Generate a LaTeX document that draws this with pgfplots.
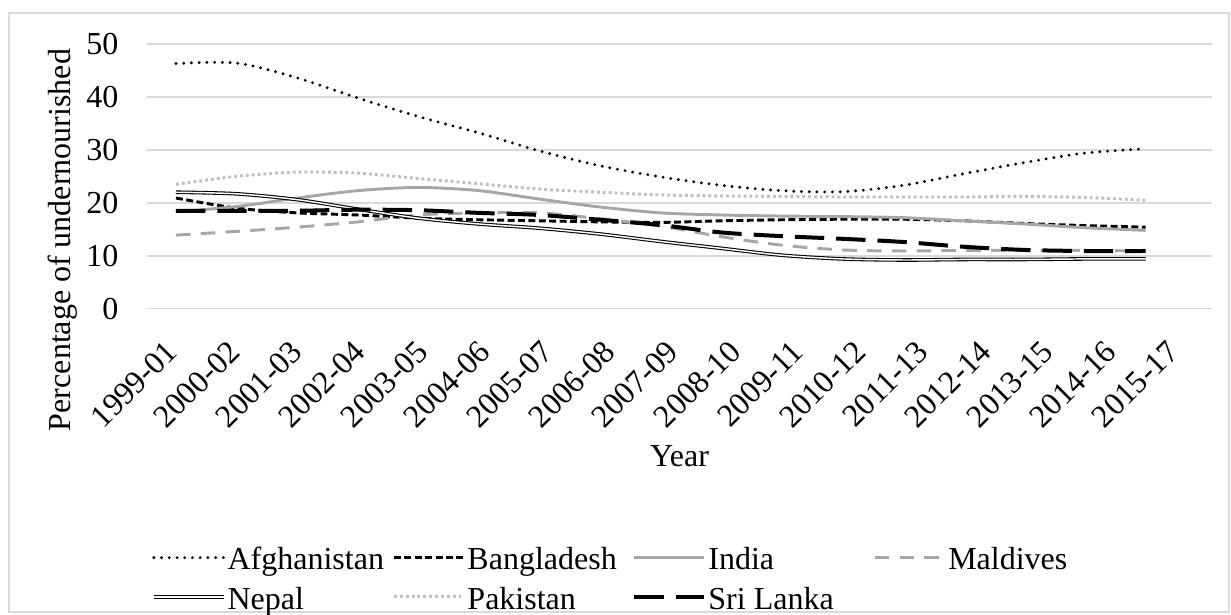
\documentclass[border=0pt]{standalone}
\usepackage{fontspec}
\setmainfont{Liberation Serif}
\usepackage{pgfplots}
\pgfplotsset{compat=1.18}
\definecolor{gridc}{HTML}{D9D9D9}
\definecolor{ind}{HTML}{A6A6A6}
\definecolor{pak}{HTML}{BFBFBF}
\newcommand{\lgd}[1]{\makebox[62.6bp][l]{\hspace{0.75bp}#1\rule[-4bp]{0pt}{15bp}}}
\begin{document}
\fontsize{12bp}{14.4bp}\selectfont
\begin{tikzpicture}
\useasboundingbox (0,0) rectangle (461.625bp,230.25bp);
\draw[gridc, line width=0.5bp] (3.375bp,0.75bp) rectangle (460.875bp,225.375bp);
\begin{axis}[
  at={(55.125bp,114.49bp)}, anchor=south west,
  scale only axis, width=399.375bp, height=99.26bp,
  xmin=-0.4785, xmax=17.096, ymin=0, ymax=50,
  ytick={0,10,20,30,40,50},
  xtick={0.111,1.143,2.176,3.209,4.241,5.274,6.307,7.340,8.372,9.405,10.438,11.470,12.503,13.536,14.568,15.601,16.634},
  xticklabels={1999-01,2000-02,2001-03,2002-04,2003-05,2004-06,2005-07,2006-08,2007-09,2008-10,2009-11,2010-12,2011-13,2012-14,2013-15,2014-16,2015-17},
  axis line style={draw=none},
  major tick length=0pt,
  ymajorgrids, major grid style={gridc, line width=0.6bp},
  /pgf/number format/assume math mode=true,
  xticklabel style={xshift=-7bp, yshift=-11bp, rotate=45, anchor=north east, inner sep=0pt},
  yticklabel style={anchor=east, inner sep=0pt, xshift=-10.5bp},
  xlabel={Year},
  ylabel={Percentage of undernourished},
  xlabel style={at={(axis description cs:0.5,-0.515)}, anchor=north, inner sep=0pt},
  ylabel style={at={(axis description cs:-0.0648,0.2595)}, anchor=south, inner sep=0pt},
  legend style={at={(axis description cs:0.0047,-0.876)}, anchor=north west, draw=none, fill=none,
     inner sep=0pt, outer sep=0pt, column sep=0pt, row sep=1.9bp, nodes={inner sep=0pt, outer sep=0pt}},
  legend columns=4,
  legend cell align=left,
  legend image code/.code={\draw[#1] (0bp,0bp) -- (26.25bp,0bp);},
  every axis plot/.append style={smooth, no markers},
]
% Afghanistan
\addplot[black, line width=1.2bp, dash pattern=on 0pt off 2.9bp, line cap=round] coordinates {
(0,46.3) (1,46.4) (2,43.6) (3,39.8) (4,36.3) (5,33.2) (6,29.8) (7,27.0) (8,24.9) (9,23.3) (10,22.3) (11,22.1) (12,23.3) (13,25.5) (14,27.6) (15,29.4) (16,30.2)};
\addlegendentry{\lgd{Afghanistan}}
% Bangladesh
\addplot[black, line width=1.1bp, dash pattern=on 2.6bp off 1.3bp] coordinates {
(0,20.9) (1,19.0) (2,18.1) (3,17.7) (4,17.1) (5,16.8) (6,16.6) (7,16.4) (8,16.3) (9,16.6) (10,16.8) (11,16.9) (12,16.9) (13,16.6) (14,16.1) (15,15.7) (16,15.4)};
\addlegendentry{\lgd{Bangladesh}}
% India
\addplot[ind, line width=1.1bp] coordinates {
(0,18.3) (1,19.3) (2,20.9) (3,22.3) (4,22.9) (5,22.3) (6,20.7) (7,19.2) (8,18.1) (9,17.7) (10,17.5) (11,17.4) (12,17.2) (13,16.6) (14,16.0) (15,15.3) (16,14.8)};
\addlegendentry{\lgd{India}}
% Maldives
\addplot[ind, line width=1.1bp, dash pattern=on 5.5bp off 3.8bp] coordinates {
(0,13.9) (1,14.6) (2,15.4) (3,16.4) (4,17.7) (5,18.1) (6,18.1) (7,17.0) (8,15.6) (9,13.6) (10,12.0) (11,11.1) (12,10.9) (13,11.0) (14,11.0) (15,11.0) (16,10.9)};
\addlegendentry{\lgd{Maldives}}
% Nepal
\addplot[black, line width=0.4bp, double=white, double distance=0.55bp] coordinates {
(0,22.0) (1,21.7) (2,20.6) (3,18.8) (4,17.1) (5,16.0) (6,15.2) (7,14.1) (8,12.7) (9,11.4) (10,10.1) (11,9.4) (12,9.2) (13,9.3) (14,9.3) (15,9.4) (16,9.4)};
\addlegendentry{\lgd{Nepal}}
% Pakistan
\addplot[pak, line width=1.1bp, dash pattern=on 1.1bp off 1.1bp] coordinates {
(0,23.5) (1,25.0) (2,25.8) (3,25.6) (4,24.6) (5,23.6) (6,22.6) (7,22.0) (8,21.5) (9,21.3) (10,21.2) (11,21.1) (12,21.1) (13,21.1) (14,21.2) (15,21.0) (16,20.5)};
\addlegendentry{\lgd{Pakistan}}
% Sri Lanka
\addplot[black, line width=1.5bp, dash pattern=on 11bp off 4.5bp] coordinates {
(0,18.5) (1,18.5) (2,18.5) (3,18.7) (4,18.6) (5,18.1) (6,17.7) (7,16.8) (8,15.8) (9,14.4) (10,13.7) (11,13.2) (12,12.6) (13,11.7) (14,11.1) (15,10.9) (16,10.9)};
\addlegendentry{\lgd{Sri Lanka}}
\end{axis}
\end{tikzpicture}
\end{document}
